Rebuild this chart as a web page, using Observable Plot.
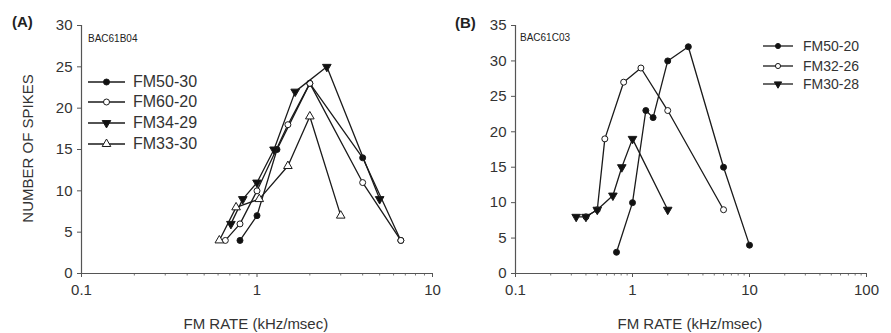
<!DOCTYPE html>
<html><head><meta charset="utf-8">
<script src="https://cdn.jsdelivr.net/npm/d3@7"></script>
<script src="https://cdn.jsdelivr.net/npm/@observablehq/plot@0.6"></script>
<style>
body{margin:0;background:#fff;}
#wrap{position:relative;width:891px;height:333px;overflow:hidden;background:#fff;font-family:"Liberation Sans",Arial,sans-serif;color:#222;}
#wrap > * {position:absolute;}
.t{white-space:nowrap;line-height:1;}
</style></head><body><div id="wrap"></div>
<script>
// ---------- Panel A data (BAC61B04) ----------
const aNames = ["FM50-30", "FM60-20", "FM34-29", "FM33-30"];
const a1x = [0.8, 1.0, 1.3, 2.0, 4.0, 6.6];
const a1y = [4, 7, 15, 23, 14, 4];
const a2x = [0.66, 0.8, 1.0, 1.5, 2.0, 4.0, 6.6];
const a2y = [4, 6, 10, 18, 23, 11, 4];
const a3x = [0.71, 0.83, 1.0, 1.25, 1.65, 2.5, 5.0];
const a3y = [6, 9, 11, 15, 22, 25, 9];
const a4x = [0.61, 0.76, 1.03, 1.5, 2.0, 3.0];
const a4y = [4, 8, 9, 13, 19, 7];
// ---------- Panel B data (BAC61C03) ----------
const bNames = ["FM50-20", "FM32-26", "FM30-28"];
const b1x = [0.73, 1.0, 1.3, 1.5, 2.0, 3.0, 6.0, 10.0];
const b1y = [3, 10, 23, 22, 30, 32, 15, 4];
const b2x = [0.4, 0.5, 0.58, 0.84, 1.18, 2.0, 6.0];
const b2y = [8, 9, 19, 27, 29, 23, 9];
const b3x = [0.33, 0.4, 0.5, 0.68, 0.81, 1.0, 2.0];
const b3y = [8, 8, 9, 11, 15, 19, 9];
// ---------- ticks ----------
const aYTicks = [0, 5, 10, 15, 20, 25, 30];
const bYTicks = [0, 5, 10, 15, 20, 25, 30, 35];
const aXMajor = [0.1, 1, 10];
const bXMajor = [0.1, 1, 10, 100];
const mult = [2, 3, 4, 5, 6, 7, 8, 9];

// marker styles: filled circle, open circle, filled down-triangle, open up-triangle
const styles = {
  fc: {symbol: "circle", fill: "#111", r: 3, rotate: 0},
  oc: {symbol: "circle", fill: "#fff", r: 3, rotate: 0},
  ft: {symbol: "triangle", fill: "#111", r: 3.2, rotate: 180},
  ot: {symbol: "triangle", fill: "#fff", r: 3.2, rotate: 0}
};
const INK = "#1a1a1a";
const wrap = document.getElementById("wrap");

function rows(xs, ys) { return xs.map((x, i) => ({x, y: ys[i]})); }
function minors(major) {
  const out = [];
  for (let i = 0; i < major.length - 1; i++) for (const m of mult) out.push(major[i] * m);
  return out;
}

function panel({left, width, ml, mr, ymax, yTicks, xMajor, series}) {
  const marks = [];
  for (const s of series) {
    const d = rows(s.x, s.y);
    const st = styles[s.style];
    marks.push(Plot.line(d, {x: "x", y: "y", stroke: INK, strokeWidth: 1.3}));
    marks.push(Plot.dot(d, {x: "x", y: "y", symbol: st.symbol, r: st.r, fill: st.fill, stroke: INK, strokeWidth: 1, rotate: st.rotate}));
  }
  const p = Plot.plot({
    width, height: 333,
    marginLeft: ml, marginRight: mr, marginTop: 25, marginBottom: 60,
    style: {background: "transparent", fontFamily: "Liberation Sans, Arial, sans-serif", fontSize: "15px", color: "#333", overflow: "visible"},
    x: {type: "log", domain: [xMajor[0], xMajor[xMajor.length - 1]]},
    y: {domain: [0, ymax]},
    marks: [
      Plot.axisY({ticks: yTicks, tickSize: 4, tickPadding: 5, label: null, stroke: "#555", fontSize: 15}),
      Plot.axisX({ticks: xMajor, tickSize: 4, tickPadding: 7, label: null, tickFormat: d => String(d), stroke: "#555", fontSize: 15}),
      Plot.axisX({ticks: minors(xMajor), tickSize: 2.5, text: null, label: null, stroke: "#777"}),
      Plot.ruleY([0], {stroke: "#555", strokeWidth: 1.2}),
      Plot.ruleX([xMajor[0]], {stroke: "#555", strokeWidth: 1.2}),
      ...marks
    ]
  });
  p.style.left = left + "px";
  p.style.top = "0px";
  wrap.appendChild(p);
}

panel({left: 0, width: 445, ml: 81, mr: 13, ymax: 30, yTicks: aYTicks, xMajor: aXMajor,
  series: [
    {x: a1x, y: a1y, style: "fc"},
    {x: a2x, y: a2y, style: "oc"},
    {x: a3x, y: a3y, style: "ft"},
    {x: a4x, y: a4y, style: "ot"}
  ]});
panel({left: 445, width: 445, ml: 70, mr: 24, ymax: 35, yTicks: bYTicks, xMajor: bXMajor,
  series: [
    {x: b1x, y: b1y, style: "fc"},
    {x: b2x, y: b2y, style: "oc"},
    {x: b3x, y: b3y, style: "ft"}
  ]});

// ---------- texts ----------
function text(str, x, y, opts = {}) {
  const d = document.createElement("div");
  d.className = "t";
  d.textContent = str;
  d.style.left = x + "px";
  d.style.top = y + "px";
  d.style.fontSize = (opts.size || 15) + "px";
  if (opts.bold) d.style.fontWeight = "bold";
  if (opts.color) d.style.color = opts.color;
  if (opts.transform) d.style.transform = opts.transform;
  wrap.appendChild(d);
  return d;
}
function centered(str, cx, cy, opts = {}) {
  const d = text(str, 0, 0, opts);
  const w = d.offsetWidth, h = d.offsetHeight;
  d.style.left = (cx - w / 2) + "px";
  d.style.top = (cy - h / 2) + "px";
  return d;
}
text("(A)", 12, 14, {size: 15, bold: true, color: "#222"});
text("(B)", 455, 15, {size: 15, bold: true, color: "#222"});
text("BAC61B04", 88, 34, {size: 10, color: "#222"});
text("BAC61C03", 520, 33, {size: 10, color: "#222"});
centered("FM RATE (kHz/msec)", 256, 323, {size: 15, color: "#333"});
centered("FM RATE (kHz/msec)", 690, 323, {size: 15, color: "#333"});
centered("NUMBER OF SPIKES", 27, 148, {size: 15, color: "#333", transform: "rotate(-90deg)"});

// ---------- legends ----------
function legend(names, keys, x0, x1, tx, ys, size, scale) {
  const svg = d3.create("svg").attr("width", x1 - x0 + 10).attr("height", 333)
    .style("left", (x0 - 5) + "px").style("top", "0px").style("position", "absolute");
  names.forEach((n, i) => {
    const y = ys[i];
    svg.append("line").attr("x1", 5).attr("x2", x1 - x0 + 5).attr("y1", y).attr("y2", y)
      .attr("stroke", INK).attr("stroke-width", 1.3);
    const st = styles[keys[i]];
    const cx = (x1 - x0) / 2 + 5;
    const sym = st.symbol === "circle" ? d3.symbolCircle : d3.symbolTriangle;
    const area = Math.PI * (st.r * scale) ** 2;
    svg.append("path").attr("d", d3.symbol(sym, area)())
      .attr("transform", `translate(${cx},${y}) rotate(${st.rotate})`)
      .attr("fill", st.fill).attr("stroke", INK).attr("stroke-width", 1);
    const d = text(n, tx, 0, {size, color: "#333"});
    d.style.top = (y - d.offsetHeight / 2) + "px";
  });
  wrap.appendChild(svg.node());
}
legend(aNames, ["fc", "oc", "ft", "ot"], 88, 125, 133, [82, 102, 123, 144], 16, 1);
legend(bNames, ["fc", "oc", "ft"], 763, 793, 803, [46, 66, 84], 14, 0.85);
</script></body></html>
